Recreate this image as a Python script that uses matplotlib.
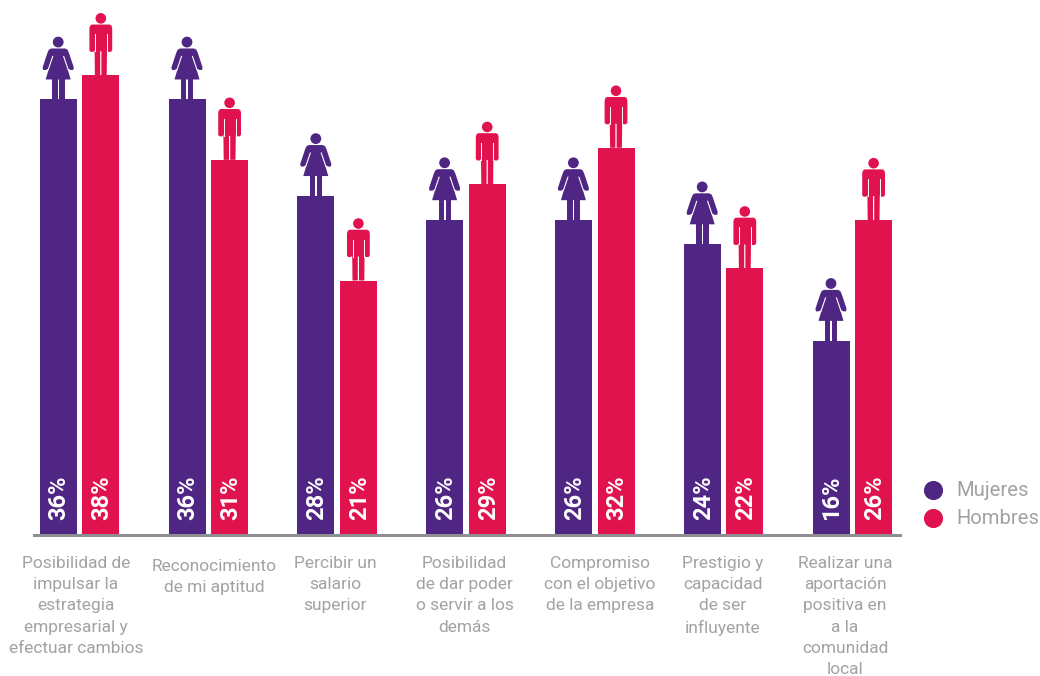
import matplotlib
matplotlib.use("Agg")
import matplotlib.pyplot as plt
from matplotlib.patches import Circle, Polygon, Rectangle
from matplotlib.transforms import Affine2D

plt.rcParams["font.family"] = ["Roboto", "DejaVu Sans"]

OUT_PNG = "out.png"

PURPLE = "#4f2683"
RED = "#e1134e"
GREY_TEXT = "#a2a2a5"
GREY_AXIS = "#8f8f93"

categories = [
    "Posibilidad de\nimpulsar la\nestrategia\nempresarial y\nefectuar cambios",
    "Reconocimiento\nde mi aptitud",
    "Percibir un\nsalario\nsuperior",
    "Posibilidad\nde dar poder\no servir a los\ndemás",
    "Compromiso\ncon el objetivo\nde la empresa",
    "Prestigio y\ncapacidad\nde ser\ninfluyente",
    "Realizar una\naportación\npositiva en\na la\ncomunidad\nlocal",
]
mujeres = [36, 36, 28, 26, 26, 24, 16]
hombres = [38, 31, 21, 29, 32, 22, 26]

# bar layout in pixels, the x axis runs 0-1040
FIRST_BAR = 58.2
GROUP_STEP = 128.8
PAIR_GAP = 42.6
BAR_W = 37
PX_PER_PCT = 12.07
BASE_PX = 534

label_x = [76, 214.5, 335, 464.5, 600, 722.5, 845]
label_top = [556, 559, 556, 556, 556, 556, 556]


def draw_woman(ax, x, val):
    tr = Affine2D().translate(*ax.transData.transform((x, val)))
    kw = dict(transform=tr, color=PURPLE, lw=0, zorder=3)
    ax.add_patch(Circle((0, 57.4), 5.4, **kw))
    ax.add_patch(Polygon([(-7, 51), (7, 51), (9.3, 49.8), (10.8, 46.5), (15.6, 32),
                          (15, 29.5), (12.3, 29.5), (10.5, 30.5), (9.4, 30.5), (12.5, 20),
                          (-12.5, 20), (-9.4, 30.5), (-10.5, 30.5), (-12.3, 29.5),
                          (-15, 29.5), (-15.6, 32), (-10.8, 46.5), (-9.3, 49.8)], **kw))
    ax.add_patch(Rectangle((-6, 0), 5.4, 21, **kw))
    ax.add_patch(Rectangle((0.9, 0), 5.4, 21, **kw))
    # slits between the arms and the dress
    ax.plot([-5.5, -9.9], [43, 30], color="white", lw=0.8, transform=tr, zorder=4)
    ax.plot([5.5, 9.9], [43, 30], color="white", lw=0.8, transform=tr, zorder=4)


def draw_man(ax, x, val):
    tr = Affine2D().translate(*ax.transData.transform((x, val)))
    kw = dict(transform=tr, color=RED, lw=0, zorder=3)
    ax.add_patch(Circle((0, 57), 5.3, **kw))
    ax.add_patch(Polygon([(-9, 50.8), (9, 50.8), (10.8, 49.5), (11.4, 47), (11.4, 25),
                          (10.2, 23.5), (7.4, 23.5), (6.2, 25), (5.9, 0), (0.6, 0),
                          (0.6, 24), (-0.6, 24), (-0.6, 0), (-5.9, 0), (-6.2, 25),
                          (-7.4, 23.5), (-10.2, 23.5), (-11.4, 25), (-11.4, 47), (-10.8, 49.5)],
                         **kw))
    # slits between the arms and the torso
    ax.plot([-5.9, -5.9], [24, 41], color="white", lw=0.7, transform=tr, zorder=4)
    ax.plot([5.9, 5.9], [24, 41], color="white", lw=0.7, transform=tr, zorder=4)


def main():
    fig = plt.figure(figsize=(10.4, 6.76), dpi=100)
    ax = fig.add_axes([0, 0, 1, 1])
    ax.set_xlim(0, 1040)
    ax.set_ylim(-(676 - BASE_PX) / PX_PER_PCT, BASE_PX / PX_PER_PCT)
    ax.axis("off")

    xs_m = [FIRST_BAR + GROUP_STEP * i for i in range(len(categories))]
    xs_h = [x + PAIR_GAP for x in xs_m]

    ax.bar(xs_m, mujeres, width=BAR_W, color=PURPLE, zorder=2)
    ax.bar(xs_h, hombres, width=BAR_W, color=RED, zorder=2)

    # baseline
    ax.add_patch(Rectangle((33, -3.4 / PX_PER_PCT), 869, 3.4 / PX_PER_PCT,
                           color=GREY_AXIS, lw=0, zorder=2))

    for xs, vals, draw in [(xs_m, mujeres, draw_woman), (xs_h, hombres, draw_man)]:
        for x, v in zip(xs, vals):
            draw(ax, x, v)
            ax.text(x + 1, 14 / PX_PER_PCT, f"{v}%", rotation=90, ha="center", va="bottom",
                    color="white", fontsize=17, fontweight="bold", zorder=5)

    for lx, top, name in zip(label_x, label_top, categories):
        ax.text(lx, (BASE_PX - top) / PX_PER_PCT, name, ha="center", va="top",
                multialignment="center", color=GREY_TEXT, fontsize=12.5, linespacing=1.52)

    # legend
    for py, col, name in [(490, PURPLE, "Mujeres"), (518, RED, "Hombres")]:
        ax.scatter([933], [(BASE_PX - py) / PX_PER_PCT], s=190, color=col, lw=0, zorder=3)
        ax.text(956, (BASE_PX - py) / PX_PER_PCT, name, ha="left", va="center",
                color=GREY_TEXT, fontsize=14.6)

    fig.savefig(OUT_PNG, dpi=100)
    plt.close(fig)


if __name__ == "__main__":
    main()
